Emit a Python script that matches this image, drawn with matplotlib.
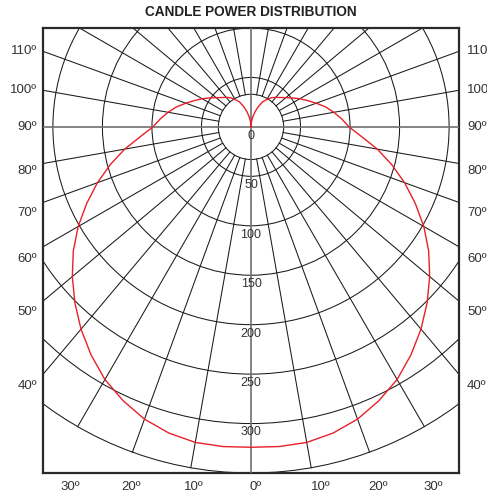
import matplotlib
matplotlib.use("Agg")
import matplotlib.pyplot as plt
from matplotlib.patches import Circle
import numpy as np

plt.rcParams['font.family'] = ['Liberation Sans', 'DejaVu Sans']

# candle power (cd) vs angle from nadir, symmetric about 0 deg
angles = list(range(0, 181, 5))
candela = [324, 324.5, 324, 320.5, 314.5, 305.5, 295, 281.5, 267, 251.5, 235.5,
           219, 201.5, 183, 165, 147, 129.5, 112, 99, 92, 85, 78, 70, 63, 57,
           51, 46, 42, 39, 36, 32, 28, 22, 16, 10, 5, 0]

ring_values = [50, 100, 150, 200, 250, 300, 350]
ring_labels = ['0', '50', '100', '150', '200', '250', '300']
inner_r = 33

side_labels = ['110º', '100º', '90º', '80º', '70º', '60º', '50º', '40º']
side_label_y = [77, 37, 0, -45, -87, -134, -187, -262]
bottom_labels = ['30º', '20º', '10º', '0º', '10º', '20º', '30º']
bottom_label_x = [-183, -121, -58, 5, 70, 128, 184]

grid_col = '#1a1a1a'
text_col = '#333333'

fig = plt.figure(figsize=(4.87, 4.93), dpi=100)
ax = fig.add_axes([43 / 487, 20 / 493, 416 / 487, 445 / 493])
ax.set_xlim(-210, 210)
ax.set_ylim(-350, 100)
ax.set_xticks([])
ax.set_yticks([])
for s in ax.spines.values():
    s.set_linewidth(1.6)
    s.set_color('#2a2a2a')

# rings
for r in [inner_r] + ring_values:
    ax.add_patch(Circle((0, 0), r, fill=False, lw=0.75, ec=grid_col, zorder=2))

# radial lines every 10 deg, from the inner circle out to the last ring
for a in range(-170, 180, 10):
    if a % 90 == 0:
        continue
    t = np.radians(a)
    ax.plot([inner_r * np.sin(t), 350 * np.sin(t)],
            [-inner_r * np.cos(t), -350 * np.cos(t)],
            color=grid_col, lw=0.75, zorder=2)

# main axes lines
ax.axvline(0, color='#707070', lw=1.2, zorder=3)
ax.axhline(0, color='#707070', lw=1.2, zorder=3)

# distribution curve
th = np.radians(np.array([-a for a in angles[::-1]] + angles[1:]))
rr = np.array(candela[::-1] + candela[1:])
ax.plot(rr * np.sin(th), -rr * np.cos(th), color='#e8202a', lw=1.0, zorder=5)

# ring labels
for v, lab in zip([0] + ring_values[:-1], ring_labels):
    ax.text(0, -v - 9, lab, ha='center', va='center', fontsize=9,
            color=text_col, zorder=6)

# angle labels
for lab, y in zip(side_labels, side_label_y):
    ax.text(-216, y, lab, ha='right', va='center', fontsize=9.5,
            color=text_col, clip_on=False)
    ax.text(218, y, lab, ha='left', va='center', fontsize=9.5,
            color=text_col, clip_on=False)
for lab, x in zip(bottom_labels, bottom_label_x):
    ax.text(x, -364, lab, ha='center', va='center', fontsize=9.5,
            color=text_col, clip_on=False)

fig.text(251 / 487, 1 - 12 / 493, 'CANDLE POWER DISTRIBUTION', ha='center',
         va='center', fontsize=9.8, fontweight='bold', color='#222222')

fig.savefig('out.png', dpi=100)
